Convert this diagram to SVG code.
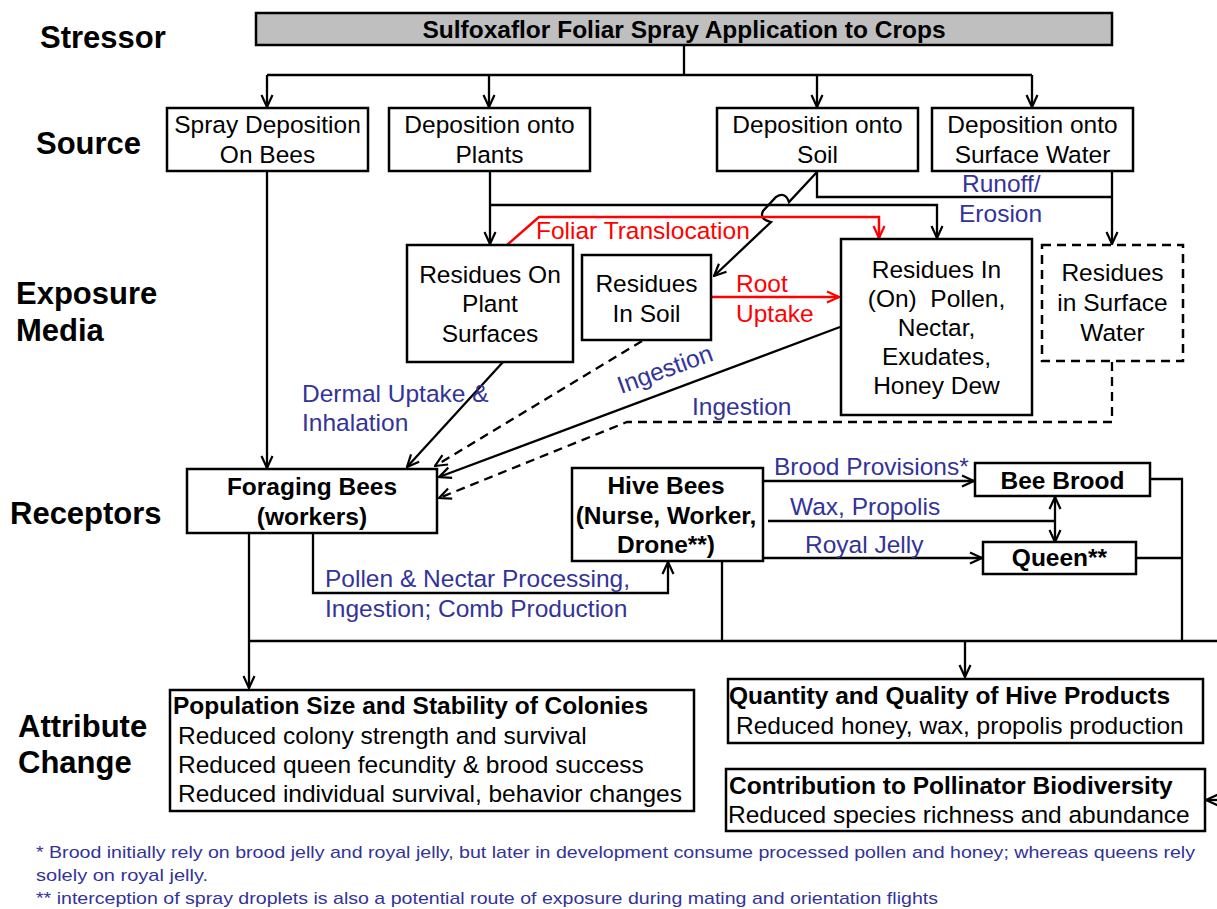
<svg xmlns="http://www.w3.org/2000/svg" width="1217" height="909" viewBox="0 0 1217 909">
  <style>
    .t { font-family: "Liberation Sans", Arial, sans-serif; font-size: 24.5px; fill: #000; }
    .b { font-weight: bold; }
    .c { text-anchor: middle; }
    .side { font-family: "Liberation Sans", Arial, sans-serif; font-size: 31px; font-weight: bold; fill: #000; }
    .blue { fill: #333399; }
    .red { fill: #ff0000; }
    .note { font-family: "Liberation Sans", Arial, sans-serif; font-size: 17px; fill: #333399; }
    .box { fill: #fff; stroke: #000; stroke-width: 2.5; }
    .dbox { fill: #fff; stroke: #000; stroke-width: 2.5; stroke-dasharray: 9 6; }
    .ln { fill: none; stroke: #000; stroke-width: 2.3; }
    .dl { fill: none; stroke: #000; stroke-width: 2.3; stroke-dasharray: 9 6; }
    .rl { fill: none; stroke: #ff0000; stroke-width: 2.5; }
    .ar { marker-end: url(#ah); }
    .arr { marker-end: url(#ahr); }
  </style>
  <defs>
    <marker id="ah" viewBox="0 0 14 14" refX="13" refY="7" markerWidth="14" markerHeight="14" markerUnits="userSpaceOnUse" orient="auto-start-reverse">
      <path d="M1,1.5 L13,7 L1,12.5" fill="none" stroke="#000" stroke-width="2.2"/>
    </marker>
    <marker id="ahr" viewBox="0 0 14 14" refX="13" refY="7" markerWidth="14" markerHeight="14" markerUnits="userSpaceOnUse" orient="auto">
      <path d="M1,1.5 L13,7 L1,12.5" fill="none" stroke="#ff0000" stroke-width="2.2"/>
    </marker>
  </defs>

  <rect width="1217" height="909" fill="#fff"/>

  <!-- tier labels -->
  <g id="tier-labels">
    <text class="side" x="40" y="48">Stressor</text>
    <text class="side" x="36" y="154">Source</text>
    <text class="side" x="16" y="304">Exposure</text>
    <text class="side" x="16" y="341">Media</text>
    <text class="side" x="10" y="524">Receptors</text>
    <text class="side" x="18" y="737">Attribute</text>
    <text class="side" x="18" y="773">Change</text>
  </g>

  <!-- connectors -->
  <g id="connectors">
    <!-- stressor to sources -->
    <path class="ln" d="M684,45 V75 M267,75 H1032"/>
    <path class="ln ar" d="M267,75 V107"/>
    <path class="ln ar" d="M489,75 V107"/>
    <path class="ln ar" d="M817,75 V107"/>
    <path class="ln ar" d="M1032,75 V107"/>
    <!-- plants -->
    <path class="ln ar" d="M490,172 V244"/>
    <path class="ln ar" d="M490,205 H937 V238"/>
    <!-- soil runoff / surface water -->
    <path class="ln" d="M817,172 V197 H1112"/>
    <path class="ln ar" d="M1112,168 V244"/>
    <!-- soil to residues in soil (zig-zag) -->
    <path class="ln ar" d="M817,172 L789,202 Q785,191 776,197 L763,211 Q759,219 771,222 L714,276"/>
    <!-- foliar translocation -->
    <path class="rl arr" d="M507,245 L539,217 H879 V238"/>
    <!-- root uptake -->
    <path class="rl arr" d="M711,297 H839"/>
    <!-- to foraging bees -->
    <path class="ln ar" d="M267,172 V468"/>
    <path class="ln ar" d="M503,362 L407,467"/>
    <path class="dl ar" d="M642,341 L435,466"/>
    <path class="ln ar" d="M840,327 L439,477"/>
    <path class="dl ar" d="M1112,362 V422 H627 L439,498"/>
    <!-- foraging to hive bees -->
    <path class="ln ar" d="M313,533 V593 H668 V562"/>
    <!-- hive bees to brood / queen -->
    <path class="ln ar" d="M763,481 H974"/>
    <path class="ln" d="M768,521 H1055"/>
    <path class="ln ar" d="M1055,497 V542" style="marker-start:url(#ah)"/>
    <path class="ln ar" d="M763,558 H982"/>
    <!-- to attribute changes -->
    <path class="ln" d="M1150,479 H1182 V641 M1136,558 H1182"/>
    <path class="ln" d="M249,641 H1217"/>
    <path class="ln" d="M722,561 V641"/>
    <path class="ln ar" d="M249,533 V688"/>
    <path class="ln ar" d="M965,641 V677"/>
    <path class="ln ar" d="M1217,800 H1206"/>
  </g>

  <!-- stressor -->
  <g id="stressor">
    <rect x="256" y="13" width="856" height="32" fill="#bfbfbf" stroke="#000" stroke-width="2.5"/>
    <text class="t b c" x="684" y="38">Sulfoxaflor Foliar Spray Application to Crops</text>
  </g>

  <!-- sources -->
  <g id="src-bees">
    <rect class="box" x="167" y="108" width="201" height="63"/>
    <text class="t c" x="267.5" y="133">Spray Deposition</text>
    <text class="t c" x="267.5" y="163">On Bees</text>
  </g>
  <g id="src-plants">
    <rect class="box" x="389" y="108" width="201" height="63"/>
    <text class="t c" x="489.5" y="133">Deposition onto</text>
    <text class="t c" x="489.5" y="163">Plants</text>
  </g>
  <g id="src-soil">
    <rect class="box" x="717" y="108" width="201" height="63"/>
    <text class="t c" x="817.5" y="133">Deposition onto</text>
    <text class="t c" x="817.5" y="163">Soil</text>
  </g>
  <g id="src-water">
    <rect class="box" x="932" y="108" width="201" height="63"/>
    <text class="t c" x="1032.5" y="133">Deposition onto</text>
    <text class="t c" x="1032.5" y="163">Surface Water</text>
  </g>

  <!-- exposure media -->
  <g id="med-plant">
    <rect class="box" x="407" y="245" width="166" height="117"/>
    <text class="t c" x="490" y="283">Residues On</text>
    <text class="t c" x="490" y="312">Plant</text>
    <text class="t c" x="490" y="342">Surfaces</text>
  </g>
  <g id="med-soil">
    <rect class="box" x="582" y="255" width="129" height="85"/>
    <text class="t c" x="646.5" y="292">Residues</text>
    <text class="t c" x="646.5" y="322">In Soil</text>
  </g>
  <g id="med-pollen">
    <rect class="box" x="841" y="239" width="191" height="176"/>
    <text class="t c" x="936.5" y="278">Residues In</text>
    <text class="t c" x="936.5" y="307" xml:space="preserve">(On)  Pollen,</text>
    <text class="t c" x="936.5" y="336">Nectar,</text>
    <text class="t c" x="936.5" y="365">Exudates,</text>
    <text class="t c" x="936.5" y="394">Honey Dew</text>
  </g>
  <g id="med-water">
    <rect class="dbox" x="1042" y="245" width="141" height="116"/>
    <text class="t c" x="1112.5" y="281">Residues</text>
    <text class="t c" x="1112.5" y="311">in Surface</text>
    <text class="t c" x="1112.5" y="341">Water</text>
  </g>

  <!-- route labels -->
  <g id="route-labels">
    <text class="t red" x="536" y="239">Foliar Translocation</text>
    <text class="t red" x="736" y="292">Root</text>
    <text class="t red" x="736" y="322">Uptake</text>
    <text class="t blue" x="962" y="192">Runoff/</text>
    <text class="t blue" x="959" y="222">Erosion</text>
    <text class="t blue" x="302" y="402">Dermal Uptake &amp;</text>
    <text class="t blue" x="302" y="431">Inhalation</text>
    <text class="t blue" transform="translate(621,394) rotate(-20)">Ingestion</text>
    <text class="t blue" x="692" y="415">Ingestion</text>
    <text class="t blue" x="774" y="475">Brood Provisions*</text>
    <text class="t blue" x="790" y="515">Wax, Propolis</text>
    <text class="t blue" x="805" y="553">Royal Jelly</text>
    <text class="t blue" x="325" y="587">Pollen &amp; Nectar Processing,</text>
    <text class="t blue" x="325" y="617">Ingestion; Comb Production</text>
  </g>

  <!-- receptors -->
  <g id="rec-foraging">
    <rect class="box" x="187" y="469" width="250" height="64"/>
    <text class="t b c" x="312" y="495">Foraging Bees</text>
    <text class="t b c" x="312" y="525">(workers)</text>
  </g>
  <g id="rec-hive">
    <rect class="box" x="572" y="468" width="191" height="93"/>
    <text class="t b c" x="666" y="494">Hive Bees</text>
    <text class="t b c" x="666" y="524">(Nurse, Worker,</text>
    <text class="t b c" x="666" y="553">Drone**)</text>
  </g>
  <g id="rec-brood">
    <rect class="box" x="975" y="463" width="175" height="33"/>
    <text class="t b c" x="1062.5" y="489">Bee Brood</text>
  </g>
  <g id="rec-queen">
    <rect class="box" x="983" y="542" width="153" height="32"/>
    <text class="t b c" x="1059.5" y="566">Queen**</text>
  </g>

  <!-- attribute changes -->
  <g id="att-population">
    <rect class="box" x="170" y="690" width="524" height="121"/>
    <text class="t b" x="173" y="714">Population Size and Stability of Colonies</text>
    <text class="t" x="178" y="744">Reduced colony strength and survival</text>
    <text class="t" x="178" y="773">Reduced queen fecundity &amp; brood success</text>
    <text class="t" x="178" y="802">Reduced individual survival, behavior changes</text>
  </g>
  <g id="att-products">
    <rect class="box" x="728" y="679" width="475" height="64"/>
    <text class="t b" x="729" y="704">Quantity and Quality of Hive Products</text>
    <text class="t" x="736" y="734">Reduced honey, wax, propolis production</text>
  </g>
  <g id="att-biodiversity">
    <rect class="box" x="726" y="769" width="479" height="62"/>
    <text class="t b" x="729" y="794">Contribution to Pollinator Biodiversity</text>
    <text class="t" x="728" y="823">Reduced species richness and abundance</text>
  </g>

  <!-- footnotes -->
  <g id="footnotes">
    <text class="note" x="36" y="858" textLength="1159" lengthAdjust="spacingAndGlyphs">* Brood initially rely on brood jelly and royal jelly, but later in development consume processed pollen and honey; whereas queens rely</text>
    <text class="note" x="36" y="881" textLength="172" lengthAdjust="spacingAndGlyphs">solely on royal jelly.</text>
    <text class="note" x="36" y="904" textLength="902" lengthAdjust="spacingAndGlyphs">** interception of spray droplets is also a potential route of exposure during mating and orientation flights</text>
  </g>
</svg>
